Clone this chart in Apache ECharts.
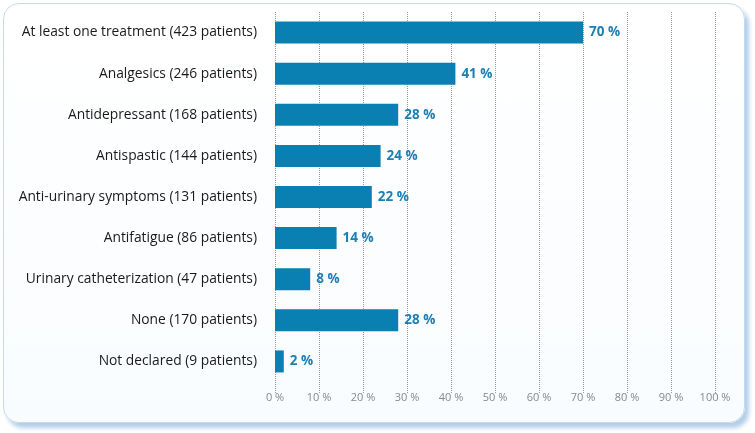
<!DOCTYPE html>
<html><head><meta charset="utf-8">
<script src="https://cdn.jsdelivr.net/npm/echarts@6/dist/echarts.min.js"></script>
<style>
html,body{margin:0;padding:0;background:#fff;}
#frame{position:absolute;left:3px;top:3px;width:740px;height:418px;border-radius:16px;border:1px solid #c5daee;box-shadow:4px 5px 4px #b3cfe8;background:linear-gradient(#ffffff,#f9fcff);}
#chart{position:absolute;left:0;top:0;width:755px;height:433px;}
</style></head>
<body>
<div id="frame"></div>
<div id="chart"></div>
<script>
var categories = ["At least one treatment (423 patients)","Analgesics (246 patients)","Antidepressant (168 patients)","Antispastic (144 patients)","Anti-urinary symptoms (131 patients)","Antifatigue (86 patients)","Urinary catheterization (47 patients)","None (170 patients)","Not declared (9 patients)"];
var values = [70,41,28,24,22,14,8,28,2];
var tickValues = [0,10,20,30,40,50,60,70,80,90,100];

var chart = echarts.init(document.getElementById('chart'));
chart.setOption({
  animation:false,
  grid:{left:275,right:40,top:12,bottom:51,containLabel:false},
  xAxis:{type:'value',min:0,max:100,interval:10,
    axisLine:{show:false},
    axisTick:{show:true,length:11,lineStyle:{color:'#999',type:'dotted'}},
    axisLabel:{formatter:function(v){return v+' %';},color:'#888',fontFamily:'Open Sans',fontSize:11,margin:10},
    splitLine:{show:true,lineStyle:{color:'#999',type:'dotted',width:1}}},
  yAxis:{type:'category',data:categories,inverse:true,
    axisLine:{show:false},axisTick:{show:false},
    axisLabel:{color:'#1a1a1a',fontFamily:'Open Sans',fontSize:13.8,margin:18}},
  series:[{type:'bar',data:values,barWidth:22,
    itemStyle:{color:'#0a80b2'},
    label:{show:true,position:'right',distance:6,formatter:function(p){return p.value+' %';},color:'#1b7fb3',fontWeight:'bold',fontFamily:'Open Sans',fontSize:13.5}}]
});
</script>
</body></html>
